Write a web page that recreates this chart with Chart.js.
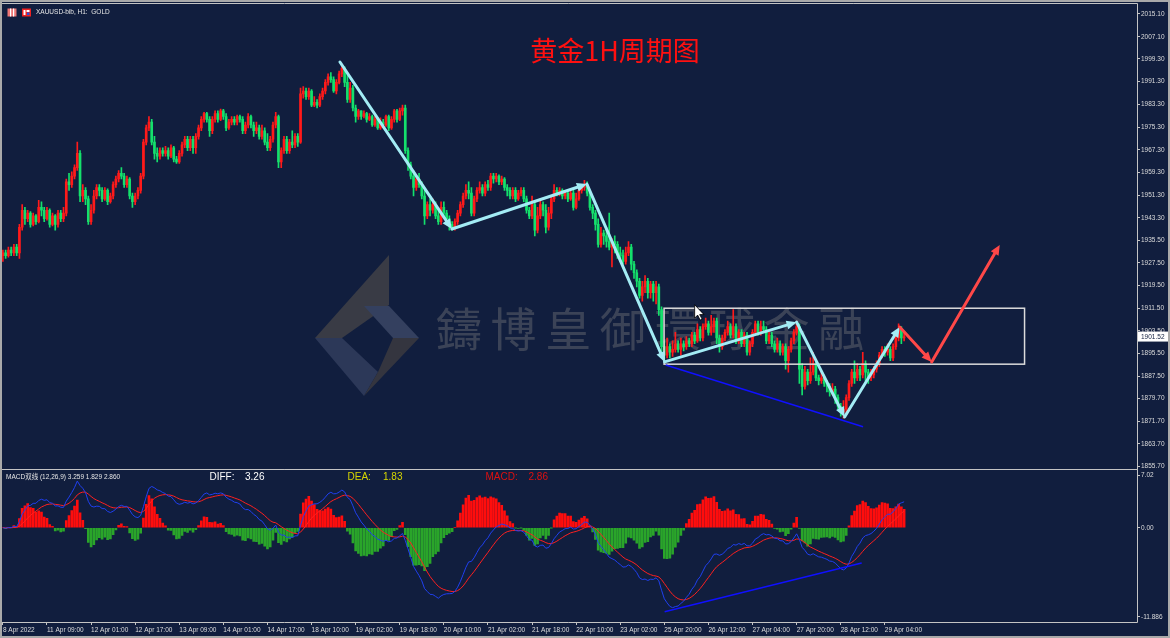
<!DOCTYPE html>
<html><head><meta charset="utf-8">
<script src="https://cdn.jsdelivr.net/npm/chart.js@4.4.1/dist/chart.umd.min.js"></script>
<style>
html,body{margin:0;padding:0;background:#111e3e;width:1170px;height:638px;overflow:hidden;}
#wrap{position:relative;width:1170px;height:638px;}
canvas{position:absolute;left:0;}
#macd{top:469px;}
#main{top:0;}
#frame{position:absolute;left:0;top:0;width:1166px;height:634px;border:2px solid #a9a9a9;pointer-events:none;}
</style></head>
<body><div id="wrap">
<canvas id="macd" width="1170" height="169"></canvas>
<canvas id="main" width="1170" height="476"></canvas>
<div id="frame"></div>
</div>
<script>
// ---- price data (H1 bars, XAUUSD) ----
const opens = [
1930,1931,1930,1932,1931,1933,1931,1940,1946,1943,
1945,1941,1944,1942,1947,1946,1943,1946,1941,1944,
1941,1945,1943,1945,1956,1955,1958,1961,1966,1951,
1953,1950,1942,1946,1951,1954,1953,1950,1953,1949,
1951,1955,1957,1959,1958,1955,1957,1951,1949,1951,
1953,1958,1970,1975,1977,1970,1966,1965,1967,1966,
1967,1965,1968,1964,1963,1966,1969,1971,1968,1971,
1968,1972,1975,1978,1980,1978,1974,1978,1980,1978,
1981,1979,1975,1977,1978,1977,1979,1978,1974,1976,
1979,1976,1974,1975,1972,1974,1970,1968,1971,1976,
1979,1963,1967,1971,1967,1970,1969,1972,1970,1987,
1988,1986,1988,1983,1984,1983,1986,1988,1991,1993,
1992,1988,1991,1994,1996,1991,1985,1989,1982,1979,
1981,1979,1980,1978,1979,1976,1978,1975,1977,1976,
1979,1975,1978,1981,1978,1981,1982,1967,1962,1958,
1954,1957,1955,1951,1944,1948,1946,1948,1944,1942,
1947,1945,1943,1941,1940,1942,1945,1948,1951,1953,
1952,1945,1950,1953,1954,1952,1955,1954,1958,1957,
1958,1956,1957,1954,1953,1951,1953,1950,1952,1953,
1950,1946,1944,1948,1939,1944,1948,1946,1940,1945,
1950,1953,1952,1953,1951,1952,1950,1952,1947,1950,
1953,1954,1955,1952,1947,1945,1941,1934,1938,1937,
1935,1933,1935,1934,1931,1930,1928,1931,1933,1927,
1924,1921,1916,1919,1921,1917,1920,1917,1919,1911,
1898,1895,1898,1896,1897,1899,1897,1899,1898,1900,
1899,1902,1900,1904,1901,1905,1906,1903,1905,1907,
1901,1898,1901,1903,1905,1902,1905,1900,1903,1899,
1902,1896,1899,1903,1906,1903,1905,1904,1900,1902,
1899,1897,1899,1896,1898,1893,1897,1900,1903,1905,
1890,1884,1889,1886,1889,1892,1887,1886,1887,1885,
1884,1882,1883,1880,1877,1875,1876,1880,1885,1889,
1887,1890,1888,1892,1889,1887,1888,1890,1892,1895,
1897,1896,1897,1894,1898,1901,1904,1901];
const highs = [
1932,1932,1933,1933,1934,1934,1941,1948,1947,1946,
1945.5,1945,1944.5,1949.5,1949,1947,1947,1946.5,1945,1944.5,
1946,1946,1947,1957,1959,1959.5,1962,1970,1967,1955,
1954,1951,1948,1953,1955,1955,1954,1954,1953.5,1952,
1956,1958,1960,1961,1959,1958,1957.5,1952,1952,1954,
1959,1971,1976,1979,1978,1972,1968,1968,1968,1968.5,
1968,1969,1968.5,1965,1967,1970,1972,1972,1972,1972,
1973,1976,1979,1980.5,1980.5,1979,1979,1981,1981,1981.6,
1981.5,1980,1978,1979,1979,1979.5,1979.5,1979,1977,1980,
1979.5,1977,1977,1976,1976,1975,1973,1972,1977,1980.5,
1979.5,1968,1972,1972,1971,1974,1973,1973,1989,1989.5,
1989,1989,1988.5,1986,1985,1987,1989,1992,1994,1994.5,
1993,1992,1995,1997,1996.5,1994,1991,1990,1983,1981.5,
1981,1981,1980.5,1980,1979.5,1979,1978.5,1978.5,1978,1979.5,
1979.5,1979,1981.5,1981.5,1982,1983,1983,1968,1963,1960,
1958,1959,1956,1953,1949,1950,1950,1949,1946,1949,
1949,1946,1944,1942,1943,1946,1949,1952,1955,1956,
1954,1951,1954,1956,1955,1956,1956.5,1959,1959,1959,
1958.5,1958,1957.5,1955,1954,1954,1954,1953,1954,1954,
1951,1947,1951,1949,1947,1950,1949,1948,1947,1951,
1955,1954,1954,1953.5,1953,1953,1953,1953,1952,1954,
1955,1956.5,1956,1953,1948,1946,1943,1940,1939,1940,
1945,1936,1937,1935,1933,1932,1933,1935,1934,1928,
1925,1922,1921,1923,1922,1921,1921,1921,1920,1912,
1900,1901,1899,1900,1903,1900,1901,1900,1901.5,1901,
1903,1903,1906,1905,1906,1908,1907,1909,1908,1908,
1902,1902,1904,1907,1906,1911,1906,1904,1904,1903,
1903,1900,1904,1907,1907,1907,1907,1905,1903,1903,
1900,1901,1900,1899,1899,1898,1901,1904,1907,1906,
1892,1891,1890,1894,1896,1893,1888,1889,1888,1886,
1885,1885,1884,1881,1878,1879,1881,1886,1890,1893,
1892,1891,1896,1893,1890,1890,1891,1893,1896,1898,
1898,1899,1898,1899,1902,1906,1905,1903];
const lows = [
1928,1929,1929.5,1930,1930,1930,1929,1939,1941,1942,
1940,1940.5,1941,1941.5,1944,1942,1942.5,1940,1940.5,1939,
1940,1942,1942,1944,1953,1954,1957,1960,1949,1949,
1948,1941,1941,1945,1950,1951,1949,1949.5,1948,1948.5,
1950,1954,1956,1957,1954,1954,1950,1947,1948,1950,
1952,1957,1969,1974,1969,1964,1963,1964,1965,1965,
1964,1964.5,1963,1962.5,1962.5,1965,1968,1967,1967,1966,
1966,1971,1974,1977,1977,1972,1973,1977,1977,1977.5,
1978,1974,1974.5,1976,1976,1976,1977,1973,1973,1975,
1975,1972,1973,1971,1971,1969,1967,1967,1970,1975,
1961,1961,1966,1966,1966,1968,1968,1968.5,1969.5,1985.5,
1985,1985,1982.5,1982.5,1982,1982.5,1985,1987,1990,1991,
1987.5,1987,1990.5,1993,1989.5,1984,1984,1981,1977,1978,
1978,1978.5,1977,1977.5,1975.5,1975.5,1974.5,1974.5,1975,1975.5,
1974,1974.5,1977,1977,1977.5,1979.5,1966,1960,1957,1951,
1953,1954,1950,1941,1943,1944,1945,1943,1941,1941,
1944,1942,1939,1939,1939,1941,1944,1947,1950,1950,
1944,1944,1949,1952,1951,1951,1953,1953,1955.5,1956,
1955,1955,1953,1951,1950,1950,1949,1949.5,1951,1949,
1945,1943,1943,1937,1938,1943,1944,1938,1939,1943,
1949,1951,1951,1950,1950,1949,1949.5,1946,1946.5,1949.5,
1952,1953,1951,1946,1943,1939,1933,1933,1934,1933,
1932,1926,1931,1929,1928,1927,1927,1930,1925,1922,
1919,1915,1914,1917,1915,1915,1914,1913,1909,1895,
1892.5,1894,1894,1894.5,1896,1896,1895,1896.5,1897,1898,
1898,1899,1899.5,1900,1900,1904,1902,1902,1903,1899,
1896,1897,1900,1902,1901,1901,1899,1899,1898,1898,
1895,1895,1898,1902,1902,1902,1903,1899,1899,1898,
1896,1896,1895,1895,1890,1889,1896,1899,1902,1885,
1881,1883,1884.5,1885,1888,1886,1884.5,1885,1884,1882,
1880.5,1881,1878,1876,1873.5,1872.8,1874,1879,1884,1885,
1886,1886,1887,1886,1885,1886,1887,1889,1891,1894,
1894.5,1895,1893,1893,1897,1900,1899,1900];
const closes = [
1931,1930,1932,1931,1933,1931,1940,1946,1943,1945,
1941,1944,1942,1947,1946,1943,1946,1941,1944,1941,
1945,1943,1945,1956,1955,1958,1961,1966,1951,1953,
1950,1942,1946,1951,1954,1953,1950,1953,1949,1951,
1955,1957,1959,1958,1955,1957,1951,1949,1951,1953,
1958,1970,1975,1977,1970,1966,1965,1967,1966,1967,
1965,1968,1964,1963,1966,1969,1971,1968,1971,1968,
1972,1975,1978,1980,1978,1974,1978,1980,1978,1981,
1979,1975,1977,1978,1977,1979,1978,1974,1976,1979,
1976,1974,1975,1972,1974,1970,1968,1971,1976,1979,
1963,1967,1971,1967,1970,1969,1972,1970,1987,1988,
1986,1988,1983,1984,1983,1986,1988,1991,1993,1992,
1988,1991,1994,1996,1991,1985,1989,1982,1979,1981,
1979,1980,1978,1979,1976,1978,1975,1977,1976,1979,
1975,1978,1981,1978,1981,1982,1967,1962,1958,1954,
1957,1955,1951,1944,1948,1946,1948,1944,1942,1947,
1945,1943,1941,1940,1942,1945,1948,1951,1953,1952,
1945,1950,1953,1954,1952,1955,1954,1958,1957,1958,
1956,1957,1954,1953,1951,1953,1950,1952,1953,1950,
1946,1944,1948,1939,1944,1948,1946,1940,1945,1950,
1953,1952,1953,1951,1952,1950,1952,1947,1950,1953,
1954,1955,1952,1947,1945,1941,1934,1938,1937,1935,
1933,1935,1934,1931,1930,1928,1931,1933,1927,1924,
1921,1916,1919,1921,1917,1920,1917,1919,1911,1898,
1895,1898,1896,1897,1899,1897,1899,1898,1900,1899,
1902,1900,1904,1901,1905,1906,1903,1905,1907,1901,
1898,1901,1903,1905,1902,1905,1900,1903,1899,1902,
1896,1899,1903,1906,1903,1905,1904,1900,1902,1899,
1897,1899,1896,1898,1893,1897,1900,1903,1905,1890,
1884,1889,1886,1889,1892,1887,1886,1887,1885,1884,
1882,1883,1880,1877,1875,1876,1880,1885,1889,1887,
1890,1888,1892,1889,1887,1888,1890,1892,1895,1897,
1896,1897,1894,1898,1901,1904,1901,1901.52];

// time-axis labels (one every 16 bars)
const timeLabels = ['8 Apr 2022','11 Apr 09:00','12 Apr 01:00','12 Apr 17:00','13 Apr 09:00','14 Apr 01:00','14 Apr 17:00','18 Apr 10:00','19 Apr 02:00','19 Apr 18:00','20 Apr 10:00','21 Apr 02:00','21 Apr 18:00','22 Apr 10:00','23 Apr 02:00','25 Apr 20:00','26 Apr 12:00','27 Apr 04:00','27 Apr 20:00','28 Apr 12:00','29 Apr 04:00'];
const priceTicks = [2015.10,2007.10,1999.30,1991.30,1983.30,1975.30,1967.30,1959.30,1951.30,1943.30,1935.50,1927.50,1919.50,1911.50,1903.50,1895.50,1887.50,1879.70,1871.70,1863.70,1855.70];
const macdTicks = [7.02, 0, -11.886];
const macdTickLabels = ['7.02','0.00','-11.886'];
const lastPrice = 1901.52;
// indicator read-outs printed in the sub-window header
const macdReadout = { diff: 3.259, dea: 1.829, macd: 2.860 };

// analyst drawings, in (bar index, price) coordinates
const cyanPath = [[122.3,1998.2],[162.9,1939.4],[211.9,1955.2],[240.1,1892.6],[288.0,1906.6],[305.4,1873.2],[325.4,1904.9]];
const redPath = [[325.4,1904.9],[337.0,1892.6],[361.7,1933.8]];
const supportLine = [[240.5,1891.5],[312.1,1869.8]];
const boxRange = [239.9,370.7,1911.5,1891.8];
const macdTrend = [[240.1,-11.2],[311.6,-4.7]];
const cursorPos = [251.0,1912.6];

const SLOT_COUNT = 412;
const slots = Array.from({length: SLOT_COUNT}, (_, i) => i);
const UP = '#ff1a1a', DOWN = '#14e06c';
const candleColors = closes.map((c, i) => c >= opens[i] ? UP : DOWN);
const bodyData = opens.map((o, i) => [o, closes[i]]);
const wickData = lows.map((l, i) => [l, highs[i]]);

// MACD (12,26,9) indicator derived from the closes above
function emaOf(src, n){ const k = 2/(n+1); const out = [src[0]]; for (let i = 1; i < src.length; i++) out.push(src[i]*k + out[i-1]*(1-k)); return out; }
const ema12 = emaOf(closes, 12), ema26 = emaOf(closes, 26);
const diffLine = closes.map((_, i) => ema12[i] - ema26[i]);
const deaLine = emaOf(diffLine, 9);
const macdHist = diffLine.map((d, i) => 2*(d - deaLine[i]));
const histColors = macdHist.map(v => v >= 0 ? '#ff0d0d' : '#2aa52a');

const FRAME = '#c4c4c4';
const TXT = '#dcdcdc';
const smallFont = {family: 'Liberation Sans', size: 6.5};

function arrow(ctx, x1, y1, x2, y2, color, w, head){
  const a = Math.atan2(y2 - y1, x2 - x1);
  ctx.strokeStyle = color; ctx.fillStyle = color; ctx.lineWidth = w; ctx.lineCap = 'round';
  ctx.beginPath(); ctx.moveTo(x1, y1); ctx.lineTo(x2 - head*0.7*Math.cos(a), y2 - head*0.7*Math.sin(a)); ctx.stroke();
  ctx.beginPath(); ctx.moveTo(x2, y2);
  ctx.lineTo(x2 - head*Math.cos(a - 0.42), y2 - head*Math.sin(a - 0.42));
  ctx.lineTo(x2 - head*Math.cos(a + 0.42), y2 - head*Math.sin(a + 0.42));
  ctx.closePath(); ctx.fill();
}
function poly(ctx, pts, color){ ctx.fillStyle = color; ctx.beginPath(); pts.forEach((p, i) => i ? ctx.lineTo(p[0], p[1]) : ctx.moveTo(p[0], p[1])); ctx.closePath(); ctx.fill(); }

const mainDecor = {
  id: 'mainDecor',
  beforeDatasetsDraw(chart){
    const c = chart.ctx; c.save();
    // watermark logo
    poly(c, [[389,255],[389,305],[342,338],[315,338]], '#393b45');
    poly(c, [[315,338],[342,338],[378,372],[364,396]], '#2c3858');
    poly(c, [[364,306],[389,306],[419,338],[393,338]], '#34405f');
    poly(c, [[393,338],[419,338],[364,396],[378,372]], '#34353f');
    c.font = '46px "Noto Sans CJK TC"'; c.fillStyle = 'rgba(128,128,128,0.38)'; c.textBaseline = 'middle'; c.textAlign = 'left';
    [...'鑄博皇御環球金融'].forEach((ch, k) => c.fillText(ch, 436 + k*54.6, 329));
    c.restore();
  },
  afterDatasetsDraw(chart){
    const c = chart.ctx, xs = chart.scales.x, ys = chart.scales.y;
    const P = (p) => [xs.getPixelForValue(p[0]), ys.getPixelForValue(p[1])];
    c.save();
    const b0 = P([boxRange[0], boxRange[2]]), b1 = P([boxRange[1], boxRange[3]]);
    c.strokeStyle = '#dcdcdc'; c.lineWidth = 1.5; c.strokeRect(b0[0], b0[1], b1[0]-b0[0], b1[1]-b0[1]);
    const s0 = P(supportLine[0]), s1 = P(supportLine[1]);
    c.strokeStyle = '#1010ff'; c.lineWidth = 1.6; c.beginPath(); c.moveTo(s0[0], s0[1]); c.lineTo(s1[0], s1[1]); c.stroke();
    for (let k = 1; k < cyanPath.length; k++){ const a = P(cyanPath[k-1]), b = P(cyanPath[k]); arrow(c, a[0], a[1], b[0], b[1], '#a3ecf5', 3, 11); }
    for (let k = 1; k < redPath.length; k++){ const a = P(redPath[k-1]), b = P(redPath[k]); arrow(c, a[0], a[1], b[0], b[1], '#ff4848', 3, 11); }
    const cp = P(cursorPos);
    c.translate(cp[0], cp[1]);
    c.beginPath(); c.moveTo(0,0); c.lineTo(0,13); c.lineTo(3,10); c.lineTo(5.5,15); c.lineTo(7.5,14); c.lineTo(5,9.5); c.lineTo(9,9.5); c.closePath();
    c.fillStyle = '#ffffff'; c.fill(); c.strokeStyle = '#000000'; c.lineWidth = 0.8; c.stroke();
    c.restore();
  },
  afterDraw(chart){
    const c = chart.ctx, ys = chart.scales.y;
    c.save();
    c.strokeStyle = FRAME; c.lineWidth = 1;
    c.beginPath(); c.moveTo(0, 3.5); c.lineTo(1137.5, 3.5); c.lineTo(1137.5, 469.5); c.lineTo(0, 469.5); c.stroke();
    c.fillStyle = '#e77'; c.fillRect(7.5, 8.5, 9, 8);
    c.fillStyle = '#fff'; c.fillRect(10, 8.5, 1.2, 8); c.fillRect(13, 8.5, 1.2, 8);
    c.fillStyle = '#e22'; c.fillRect(22, 8.5, 9, 8);
    c.fillStyle = '#fff'; c.fillRect(23.5, 10, 2, 5); c.fillRect(26.5, 10, 3, 2);
    c.fillStyle = '#2a4fd8'; c.fillRect(27, 12.5, 2.5, 2.5);
    c.font = '6.5px "Liberation Sans"'; c.fillStyle = '#e6e6e6'; c.textBaseline = 'middle'; c.textAlign = 'left';
    c.fillText('XAUUSD-bib, H1:  GOLD', 36, 12.5);
    c.font = '27px "Noto Sans CJK SC"'; c.fillStyle = '#ff1010'; c.textAlign = 'center';
    c.fillText('黄金1H周期图', 615, 50.5);
    const yp = ys.getPixelForValue(lastPrice);
    c.fillStyle = '#ffffff'; c.fillRect(1138, yp - 5, 30, 10);
    c.fillStyle = '#111e3e'; c.font = '6.5px "Liberation Sans"'; c.textAlign = 'left';
    c.fillText(lastPrice.toFixed(2), 1141, yp + 0.5);
    c.restore();
  }
};

const macdDecor = {
  id: 'macdDecor',
  afterDatasetsDraw(chart){
    const c = chart.ctx, xs = chart.scales.x, ys = chart.scales.y;
    const a = [xs.getPixelForValue(macdTrend[0][0]), ys.getPixelForValue(macdTrend[0][1])];
    const b = [xs.getPixelForValue(macdTrend[1][0]), ys.getPixelForValue(macdTrend[1][1])];
    c.save(); c.strokeStyle = '#1010ff'; c.lineWidth = 1.6; c.beginPath(); c.moveTo(a[0], a[1]); c.lineTo(b[0], b[1]); c.stroke(); c.restore();
  },
  afterDraw(chart){
    const c = chart.ctx;
    c.save();
    c.strokeStyle = FRAME; c.lineWidth = 1;
    c.beginPath(); c.moveTo(0, 0.5); c.lineTo(1137.5, 0.5); c.lineTo(1137.5, 153.5); c.lineTo(0, 153.5); c.stroke();
    c.textBaseline = 'middle'; c.textAlign = 'left';
    c.font = '6.5px "Liberation Sans", "Noto Sans CJK SC"'; c.fillStyle = '#e6e6e6';
    c.fillText('MACD双线 (12,26,9) ' + macdReadout.diff.toFixed(3) + ' ' + macdReadout.dea.toFixed(3) + ' ' + macdReadout.macd.toFixed(3), 6, 8.5);
    c.font = '10px "Liberation Sans"';
    c.fillStyle = '#ffffff'; c.fillText('DIFF:', 209.5, 8.5); c.fillText(macdReadout.diff.toFixed(2), 245, 8.5);
    c.fillStyle = '#d6d600'; c.fillText('DEA:', 347.5, 8.5); c.fillText(macdReadout.dea.toFixed(2), 383, 8.5);
    c.fillStyle = '#e01010'; c.fillText('MACD:', 485.5, 8.5); c.fillText(macdReadout.macd.toFixed(2), 528.5, 8.5);
    c.restore();
  }
};

new Chart(document.getElementById('macd'), {
  type: 'bar',
  data: { labels: slots, datasets: [
    { type: 'line', data: diffLine, borderColor: '#2040f0', borderWidth: 1, pointRadius: 0, order: 0 },
    { type: 'line', data: deaLine, borderColor: '#ff2020', borderWidth: 1, pointRadius: 0, order: 0 },
    { type: 'bar', data: macdHist, backgroundColor: histColors, barThickness: 2, order: 1 }
  ]},
  options: {
    responsive: false, animation: false, events: [],
    layout: { padding: { left: 1.5, top: 0, right: 0, bottom: 0 } },
    plugins: { legend: { display: false }, tooltip: { enabled: false } },
    scales: {
      x: { position: 'bottom', offset: true,
        afterBuildTicks: s => { s.ticks = timeLabels.map((_, k) => ({ value: k*16 })); },
        afterFit: s => { s.height = 16; s.paddingLeft = 0; s.paddingRight = 0; },
        ticks: { autoSkip: false, maxRotation: 0, minRotation: 0, align: 'start', padding: 1, color: TXT, font: smallFont, callback: v => timeLabels[v/16] },
        grid: { offset: false, drawOnChartArea: false, drawTicks: true, tickLength: 3, color: FRAME },
        border: { display: false } },
      y: { position: 'right', min: -12.552, max: 7.819,
        afterBuildTicks: s => { s.ticks = macdTicks.map(v => ({ value: v })); },
        afterFit: s => { s.width = 33; s.paddingTop = 0; s.paddingBottom = 0; },
        ticks: { autoSkip: false, padding: 1, color: TXT, font: smallFont, callback: (v, i) => macdTickLabels[i] },
        grid: { drawOnChartArea: false, drawTicks: true, tickLength: 3, color: FRAME },
        border: { display: false } }
    }
  },
  plugins: [macdDecor]
});

new Chart(document.getElementById('main'), {
  type: 'bar',
  data: { labels: slots, datasets: [
    { data: wickData, backgroundColor: candleColors, barThickness: 1, grouped: false, order: 2 },
    { data: bodyData, backgroundColor: candleColors, barThickness: 2, grouped: false, minBarLength: 1, order: 1 }
  ]},
  options: {
    responsive: false, animation: false, events: [],
    layout: { padding: { left: 1.5, top: 3, right: 0, bottom: 7 } },
    plugins: { legend: { display: false }, tooltip: { enabled: false } },
    scales: {
      x: { display: false, offset: true },
      y: { position: 'right', min: 1854.89, max: 2018.97,
        afterBuildTicks: s => { s.ticks = priceTicks.map(v => ({ value: v })); },
        afterFit: s => { s.width = 33; s.paddingTop = 0; s.paddingBottom = 0; },
        ticks: { autoSkip: false, padding: 1, color: TXT, font: smallFont, callback: v => v.toFixed(2) },
        grid: { drawOnChartArea: false, drawTicks: true, tickLength: 3, color: FRAME },
        border: { display: false } }
    }
  },
  plugins: [mainDecor]
});
</script>
</body></html>
